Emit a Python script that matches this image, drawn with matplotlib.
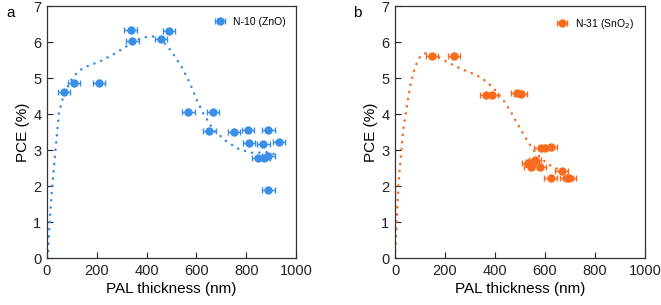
import numpy as np
import matplotlib.pyplot as plt

plt.rcParams['font.family'] = ['Liberation Sans', 'DejaVu Sans']

# panel a: N-10 (ZnO)
zno_x = [68, 109, 208, 336, 343, 458, 489, 568, 667, 652, 752, 808, 889,
         812, 869, 932, 849, 871, 889, 889]
zno_y = [4.60, 4.86, 4.86, 6.34, 6.02, 6.08, 6.32, 4.06, 4.06, 3.53, 3.50,
         3.56, 3.57, 3.20, 3.17, 3.22, 2.79, 2.79, 2.83, 1.89]
zno_xerr = 25
zno_fit_x = [0, 4, 8, 13, 20, 28, 38, 48, 62, 78, 98, 125, 158, 212, 265, 319,
             359, 399, 433, 466, 500, 540, 574, 601, 627, 668, 721, 775, 828,
             882, 922]
zno_fit_y = [0, 0.05, 0.69, 1.25, 1.9, 2.55, 3.29, 4.03, 4.4, 4.68, 4.95, 5.19,
             5.32, 5.46, 5.65, 5.88, 6.06, 6.14, 6.16, 6.02, 5.74, 5.32, 4.86,
             4.4, 4.03, 3.56, 3.24, 3.01, 2.92, 2.94, 2.87]

# panel b: N-31 (SnO2)
sno_x = [149, 236, 364, 387, 489, 503, 583, 600, 624, 560, 551, 533, 543,
         580, 667, 623, 687, 698]
sno_y = [5.60, 5.61, 4.53, 4.53, 4.59, 4.57, 3.05, 3.05, 3.09, 2.72, 2.66,
         2.63, 2.54, 2.54, 2.43, 2.21, 2.21, 2.21]
sno_xerr = 25
sno_fit_x = [0, 3, 7, 13, 23, 33, 47, 60, 80, 100, 120, 160, 207, 260, 327,
             367, 400, 433, 467, 493, 520, 540, 560, 580, 600, 620, 640, 670]
sno_fit_y = [0, 0.4, 1.06, 1.98, 2.81, 3.56, 4.2, 4.76, 5.31, 5.59, 5.69, 5.64,
             5.45, 5.27, 5.08, 4.9, 4.67, 4.39, 4.02, 3.69, 3.37, 3.15, 2.95,
             2.8, 2.68, 2.58, 2.5, 2.45]

blue = '#3a8ee6'
orange = '#fb6a1d'

fig = plt.figure(figsize=(6.61, 3.05), dpi=100)
ax_a = fig.add_axes([0.0711, 0.154, 0.3767, 0.826])
ax_b = fig.add_axes([0.5976, 0.154, 0.378, 0.826])

panels = [
    (ax_a, zno_x, zno_y, zno_xerr, zno_fit_x, zno_fit_y, blue, 'N-10 (ZnO)', 'a'),
    (ax_b, sno_x, sno_y, sno_xerr, sno_fit_x, sno_fit_y, orange,
     'N-31 (SnO$_2$)', 'b'),
]

for ax, x, y, xerr, fx, fy, c, lab, letter in panels:
    ax.plot(fx, fy, color=c, lw=1.8, ls=(0, (0.1, 2.8)),
            dash_capstyle='round', zorder=2)
    ax.errorbar(x, y, xerr=xerr, fmt='o', color=c, ms=5, elinewidth=1,
                capsize=2.5, capthick=1, label=lab, zorder=3)
    ax.set_xlim(0, 1000)
    ax.set_ylim(0, 7)
    ax.set_xticks(range(0, 1001, 200))
    ax.set_yticks(range(0, 8))
    ax.tick_params(direction='in', length=4, width=0.8, labelsize=10.5,
                   colors='#222222', pad=4)
    for s in ax.spines.values():
        s.set_linewidth(0.9)
        s.set_color('#333333')
    ax.set_xlabel('PAL thickness (nm)', fontsize=11, labelpad=3)
    ax.set_ylabel('PCE (%)', fontsize=11, labelpad=2)
    ax.legend(loc='upper right', frameon=False, fontsize=7.5,
              handletextpad=0.5, handlelength=1.5, borderaxespad=0.6)

fig.text(6 / 661, 1 - 13 / 305, 'a', fontsize=11, va='center', ha='left')
fig.text(353 / 661, 1 - 13 / 305, 'b', fontsize=11, va='center', ha='left')

fig.savefig('out.png', dpi=100)
